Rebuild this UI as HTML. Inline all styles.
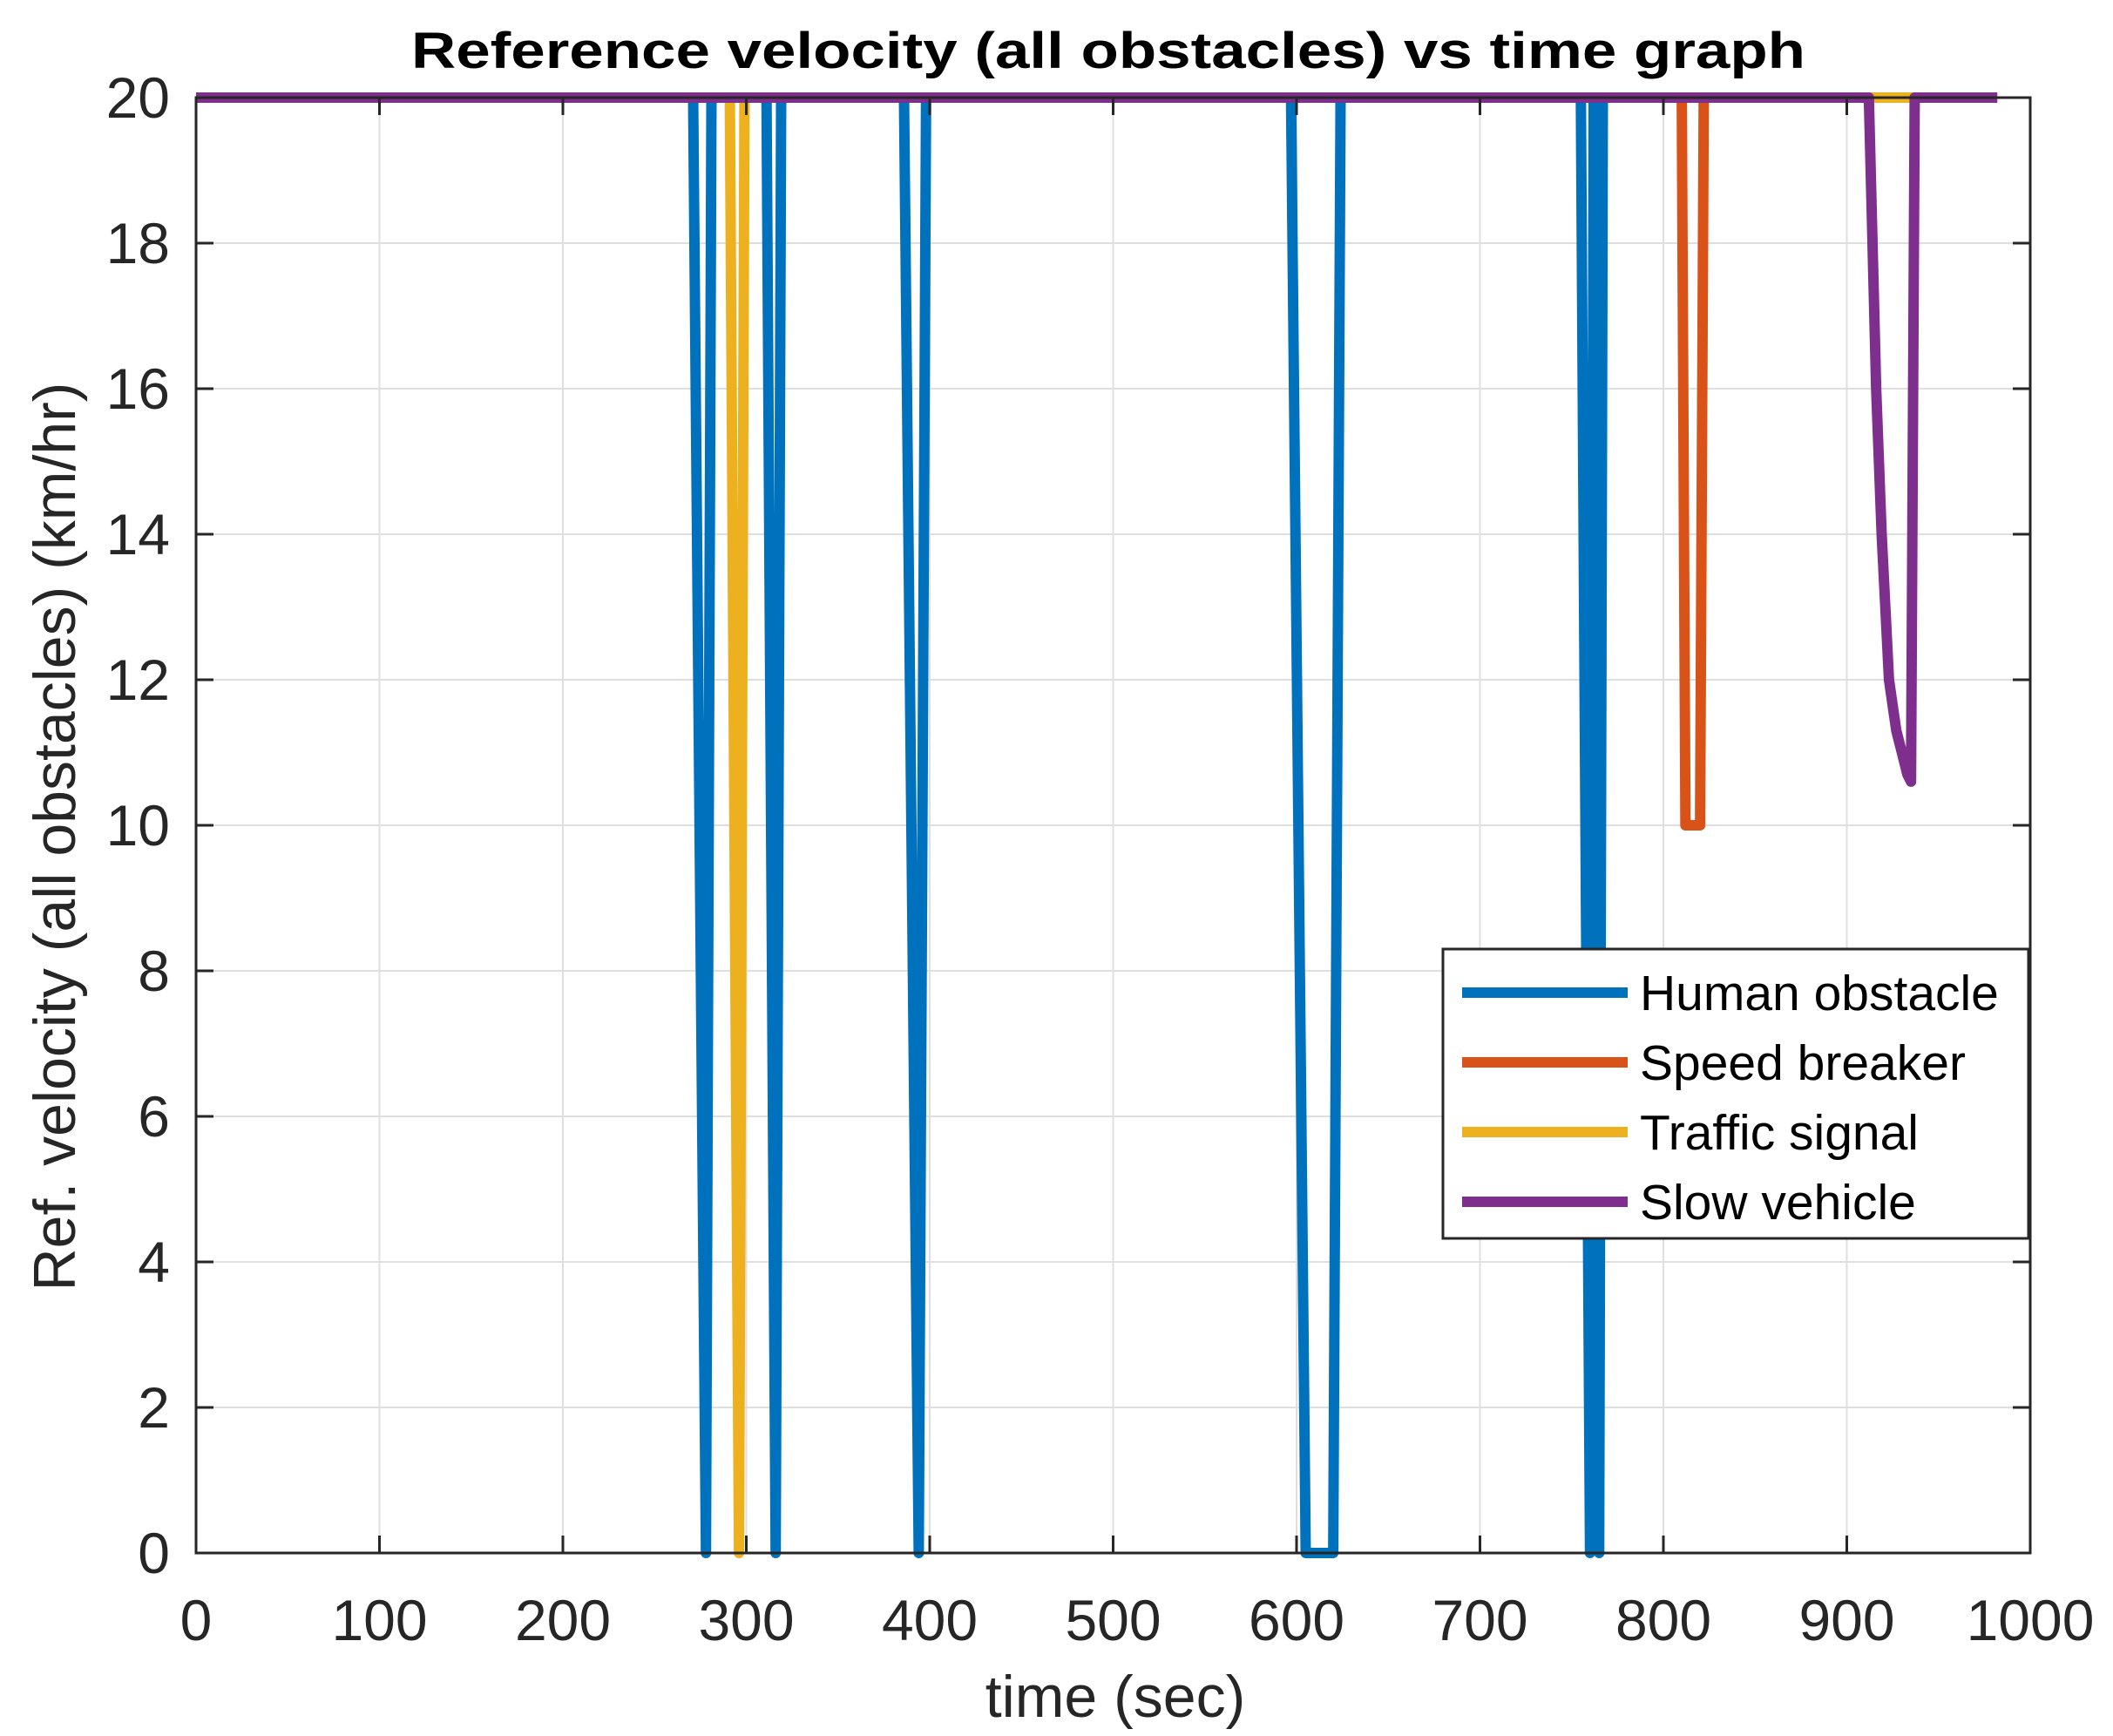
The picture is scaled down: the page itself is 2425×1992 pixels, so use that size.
<!DOCTYPE html>
<html><head><meta charset="utf-8">
<style>
html,body{margin:0;padding:0;background:#fff;}
svg{display:block;font-family:"Liberation Sans",Arial,sans-serif;}
</style></head>
<body>
<svg id="chart" width="2425" height="1992" viewBox="0 0 2425 1992" xmlns="http://www.w3.org/2000/svg">
<rect x="0" y="0" width="2425" height="1992" fill="#fff"/>
<g id="grid"></g>
<g id="series"></g>
<g id="axes"></g>
<text x="1272" y="78" text-anchor="middle" font-weight="bold" font-size="58" textLength="1600" lengthAdjust="spacingAndGlyphs" fill="#000">Reference velocity (all obstacles) vs time graph</text>
<text x="1280" y="1970" text-anchor="middle" font-size="68" fill="#262626">time (sec)</text>
<text transform="translate(86,960) rotate(-90)" text-anchor="middle" font-size="68" fill="#262626">Ref. velocity (all obstacles) (km/hr)</text>
<g id="legend"></g>
</svg>
<script>
const xTicks = [0,100,200,300,400,500,600,700,800,900,1000];
const yTicks = [0,2,4,6,8,10,12,14,16,18,20];
const seriesNames = ["Human obstacle","Speed breaker","Traffic signal","Slow vehicle"];
const humanT = [0,271,278,281,311,316,319,386,394,398,597,605,620,624,755,760,762,765,767,982];
const humanV = [20,20,0,20,20,0,20,20,0,20,20,0,0,20,20,0,20,0,20,20];
const speedT = [0,810,812,820,822,982];
const speedV = [20,20,10,10,20,20];
const trafficT = [0,291,296,299,982];
const trafficV = [20,20,0,20,20];
const slowT = [0,912,914,916,919,923,927,930,933,935,937,982];
const slowV = [20,20,18,16,14,12,11.3,11,10.7,10.6,20,20];

const L=225,R=2330,T=112,B=1782;
const sx=t=>L+(t-0)/(1000-0)*(R-L);
const sy=v=>B-(v-0)/(20-0)*(B-T);
const NS="http://www.w3.org/2000/svg";
function mk(tag,attrs,parent){const e=document.createElementNS(NS,tag);for(const k in attrs)e.setAttribute(k,attrs[k]);parent.appendChild(e);return e;}
const grid=document.getElementById('grid'),axes=document.getElementById('axes'),ser=document.getElementById('series'),leg=document.getElementById('legend');

xTicks.forEach(t=>{
  const g=mk('line',{x1:sx(t),x2:sx(t),y1:T,y2:B,stroke:'#dfdfdf','stroke-width':2},grid);
  
  
  const tk=mk('line',{x1:sx(t),x2:sx(t),y1:B,y2:B-20,stroke:'#262626','stroke-width':3},axes);
  
  
  const tk2=mk('line',{x1:sx(t),x2:sx(t),y1:T,y2:T+20,stroke:'#262626','stroke-width':3},axes);
  
  
  const lb=mk('text',{x:sx(t),y:B+100,'text-anchor':'middle','font-size':66,fill:'#262626'},axes);
  
  
  lb.textContent=t;
});
yTicks.forEach(v=>{
  const g=mk('line',{x1:L,x2:R,y1:sy(v),y2:sy(v),stroke:'#dfdfdf','stroke-width':2},grid);
  
  
  const tk=mk('line',{x1:L,x2:L+20,y1:sy(v),y2:sy(v),stroke:'#262626','stroke-width':3},axes);
  
  
  const tk2=mk('line',{x1:R,x2:R-20,y1:sy(v),y2:sy(v),stroke:'#262626','stroke-width':3},axes);
  
  
  const lb=mk('text',{x:L-30,y:sy(v)+23,'text-anchor':'end','font-size':66,fill:'#262626'},axes);
  
  
  lb.textContent=v;
});
const frame=mk('rect',{x:L,y:T,width:R-L,height:B-T,fill:'none',stroke:'#262626','stroke-width':3},axes);



const colors=['#0072BD','#D95319','#EDB120','#7E2F8E'];
const data=[[humanT,humanV],[speedT,speedV],[trafficT,trafficV],[slowT,slowV]];
const names=['human-obstacle-line','speed-breaker-line','traffic-signal-line','slow-vehicle-line'];
data.forEach((d,i)=>{
  const pts=d[0].map((t,j)=>sx(t).toFixed(1)+','+sy(d[1][j]).toFixed(1)).join(' ');
  const p=mk('polyline',{points:pts,fill:'none',stroke:colors[i],'stroke-width':12,'stroke-linejoin':'round'},ser);
  
  
});

const lx=1656,ly=1089,lw=672,lh=332;
const box=mk('rect',{x:lx,y:ly,width:lw,height:lh,fill:'#fff',stroke:'#262626','stroke-width':3},leg);


seriesNames.forEach((n,i)=>{
  const y=ly+50+i*80;
  const ln=mk('line',{x1:lx+22,x2:lx+212,y1:y,y2:y,stroke:colors[i],'stroke-width':12},leg);
  
  
  const tx=mk('text',{x:lx+226,y:y+20,'font-size':57,fill:'#000'},leg);
  
  
  tx.textContent=n;
});
</script>
</body></html>
